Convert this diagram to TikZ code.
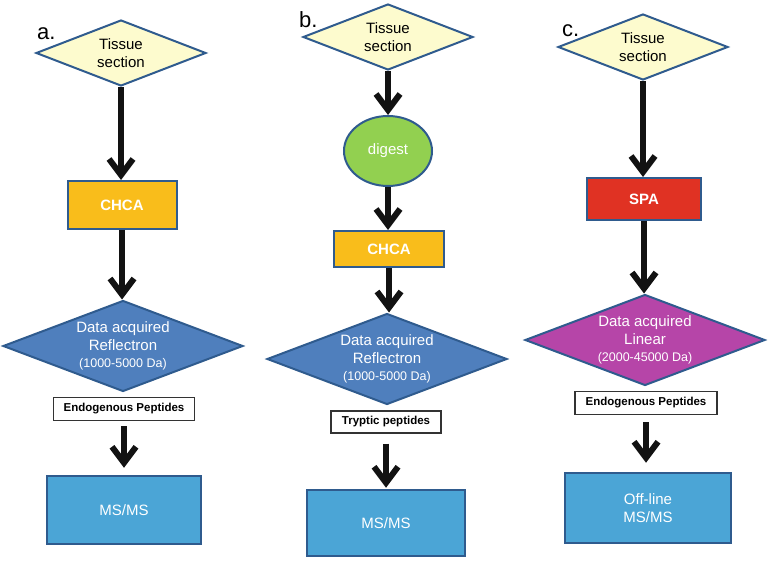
\documentclass[tikz,border=0pt]{standalone}
\usepackage{fontspec}
\setmainfont{Liberation Sans}
\usetikzlibrary{shapes.geometric,arrows.meta}

\definecolor{edgeblue}{HTML}{2F5B8E}
\definecolor{paleyellow}{HTML}{FDFBCE}
\definecolor{chcaorange}{HTML}{F9BD1B}
\definecolor{acqblue}{HTML}{4F7FBD}
\definecolor{msblue}{HTML}{4BA5D6}
\definecolor{digestgreen}{HTML}{92D050}
\definecolor{spared}{HTML}{E03223}
\definecolor{linpurple}{HTML}{B645A8}

\tikzset{
	tissue/.style={diamond, aspect=2.5, draw=edgeblue, line width=2pt, fill=paleyellow, inner sep=0pt,
		minimum width=170pt, minimum height=66pt, align=center, font=\fontsize{15}{18}\selectfont},
	acquired/.style={diamond, aspect=2.6, draw=edgeblue, line width=2pt, inner sep=0pt,
		minimum width=240pt, minimum height=91pt, align=center, text=white, font=\fontsize{15}{17.5}\selectfont},
	matrixbox/.style={rectangle, draw=edgeblue, line width=2pt, inner sep=0pt, text=white,
		font=\bfseries\fontsize{15}{18}\selectfont},
	msbox/.style={rectangle, draw=edgeblue, line width=2.5pt, fill=msblue, inner sep=0pt, text=white,
		align=center, font=\fontsize{15}{18}\selectfont},
	tagbox/.style={rectangle, draw=black!80, line width=1.2pt, fill=white, inner sep=0pt,
		font=\bfseries\fontsize{11.5}{14}\selectfont},
	flow/.style={line width=6pt, color=black!93, -{Straight Barb[length=16pt,width=24pt]}},
	panel/.style={anchor=base west, inner sep=0pt, font=\fontsize{22}{26}\selectfont}
}

\newcommand{\darange}[1]{{\fontsize{12.5}{15}\selectfont #1}}

\begin{document}
\begin{tikzpicture}[x=1pt, y=-1pt]
		%%%%% START %%%%%
		\useasboundingbox (0, 0) rectangle (770, 561);
		
		% column a
		\node[panel] (la) at (37, 40) {a.};
		\node[tissue] (ta) at (121, 53) {Tissue\\section};
		\node[matrixbox, fill=chcaorange, minimum width=109pt, minimum height=48pt] (ca) at (122, 205) {CHCA};
		\node[acquired, fill=acqblue] (da) at (123, 346) {Data acquired\\Reflectron\\\darange{(1000-5000 Da)}};
		\node[tagbox, minimum width=141pt, minimum height=23pt] (ea) at (124, 409) {Endogenous Peptides};
		\node[msbox, minimum width=154pt, minimum height=68pt] (ma) at (124, 510) {MS/MS};
		
		\draw[flow] (ta.south) -- (ta.south |- ca.north);
		\draw[flow] (ca.south) -- (ca.south |- da.north);
		\draw[flow, shorten <=5pt, shorten >=7pt] (ea.south) -- (ea.south |- ma.north);
		
		% column b
		\node[panel] (lb) at (299, 28) {b.};
		\node[tissue] (tb) at (388, 37) {Tissue\\section};
		\node[ellipse, draw=edgeblue, line width=2pt, fill=digestgreen, inner sep=0pt, minimum width=88pt,
			minimum height=70pt, text=white, font=\fontsize{15}{18}\selectfont] (gb) at (388, 151) {digest};
		\node[matrixbox, fill=chcaorange, minimum width=110pt, minimum height=36pt] (cb) at (389, 249) {CHCA};
		\node[acquired, fill=acqblue] (db) at (387, 359) {Data acquired\\Reflectron\\\darange{(1000-5000 Da)}};
		\node[tagbox, minimum width=110pt, minimum height=22pt] (eb) at (386, 422) {Tryptic peptides};
		\node[msbox, minimum width=158pt, minimum height=66pt] (mb) at (386, 523) {MS/MS};
		
		\draw[flow] (tb.south) -- (tb.south |- gb.north);
		\draw[flow] (gb.south) -- (gb.south |- cb.north);
		\draw[flow] (cb.south) -- (cb.south |- db.north);
		\draw[flow, shorten <=10pt, shorten >=1pt] (eb.south) -- (eb.south |- mb.north);
		
		% column c
		\node[panel] (lc) at (562, 37) {c.};
		\node[tissue] (tc) at (643, 47) {Tissue\\section};
		\node[matrixbox, fill=spared, minimum width=114pt, minimum height=42pt] (sc) at (644, 199) {SPA};
		\node[acquired, fill=linpurple] (dc) at (645, 340) {Data acquired\\Linear\\\darange{(2000-45000 Da)}};
		\node[tagbox, minimum width=142pt, minimum height=23pt] (ec) at (646, 403) {Endogenous Peptides};
		\node[msbox, minimum width=166pt, minimum height=70pt] (mc) at (648, 508) {Off-line\\MS/MS};
		
		\draw[flow] (tc.south) -- (tc.south |- sc.north);
		\draw[flow] (sc.south) -- (sc.south |- dc.north);
		\draw[flow, shorten <=7pt, shorten >=9pt] (ec.south) -- (ec.south |- mc.north);
		
		%%%%% END %%%%%
	\end{tikzpicture}
\end{document}
